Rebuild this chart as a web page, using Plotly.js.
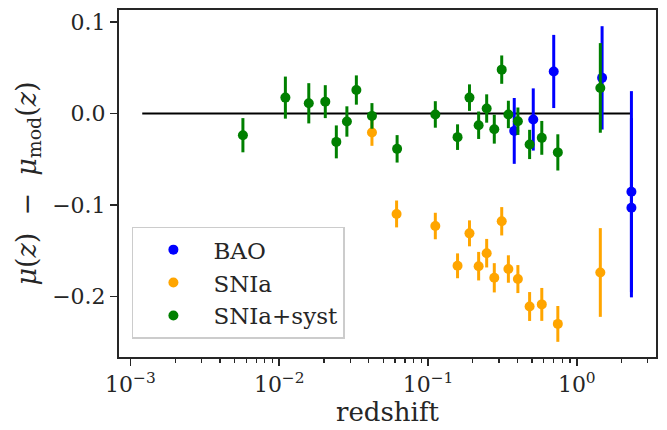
<!DOCTYPE html>
<html>
<head>
<meta charset="utf-8">
<script src="https://cdn.plot.ly/plotly-3.0.1.min.js"></script>
<style>html,body{margin:0;padding:0;background:#fff;}#chart{width:667px;height:430px;}</style>
</head>
<body>
<div id="chart"></div>
<script>
// BAO
const baoZ   = [0.38, 0.51, 0.70, 1.48, 2.33, 2.33];
const baoY   = [-0.019, -0.0065, 0.046, 0.039, -0.0855, -0.103];
const baoErr = [0.036, 0.034, 0.040, 0.0565, 0.110, 0.098];

// SNIa (stat only)
const snZ   = [0.042, 0.0615, 0.112, 0.158, 0.19, 0.219, 0.248, 0.279, 0.313, 0.347, 0.402, 0.482, 0.582, 0.746, 1.44];
const snY   = [-0.0207, -0.1098, -0.123, -0.1665, -0.131, -0.1669, -0.1527, -0.1796, -0.1178, -0.170, -0.181, -0.211, -0.2087, -0.230, -0.1738];
const snErr = [0.0146, 0.0147, 0.0145, 0.0136, 0.0142, 0.0156, 0.0156, 0.016, 0.0155, 0.015, 0.0153, 0.0158, 0.018, 0.0196, 0.0485];

// SNIa + systematics
const sysZ   = [0.0057, 0.011, 0.0158, 0.0204, 0.0242, 0.0285, 0.033, 0.042, 0.062, 0.112, 0.158, 0.19, 0.219, 0.248, 0.279, 0.313, 0.347, 0.402, 0.482, 0.582, 0.746, 1.44];
const sysY   = [-0.0237, 0.0174, 0.0112, 0.013, -0.031, -0.0087, 0.0257, -0.0026, -0.0386, -0.001, -0.0258, 0.0174, -0.0128, 0.0055, -0.0171, 0.048, -0.001, -0.0084, -0.0338, -0.0266, -0.0425, 0.028];
const sysErr = [0.0187, 0.023, 0.022, 0.018, 0.018, 0.0166, 0.016, 0.014, 0.015, 0.0145, 0.014, 0.0145, 0.015, 0.0155, 0.0158, 0.0155, 0.015, 0.015, 0.016, 0.0185, 0.0198, 0.049];

// zero reference line
const refZ = [0.0012, 2.33];
const refY = [0, 0];

const xTickVals = [0.001, 0.01, 0.1, 1];
const xTickText = ['10<sup>−3</sup>', '10<sup>−2</sup>', '10<sup>−1</sup>', '10<sup>0</sup>'];
const yTickVals = [-0.2, -0.1, 0.0, 0.1];
const yTickText = ['−0.2', '−0.1', '0.0', '0.1'];

const minorVals = [];
[0.001, 0.01, 0.1, 1].forEach(d => { for (let k = 2; k <= 9; k++) minorVals.push(d * k); });

const FONT = 'DejaVu Serif';

function errTrace(x, y, e, color, name) {
  return {
    x: x, y: y, type: 'scatter', mode: 'markers', name: name,
    marker: {color: color, size: 10},
    error_y: {type: 'data', array: e, visible: true, color: color, thickness: 3, width: 0}
  };
}

const data = [
  {x: refZ, y: refY, type: 'scatter', mode: 'lines', line: {color: 'black', width: 2}, showlegend: false, hoverinfo: 'skip'},
  errTrace(baoZ, baoY, baoErr, '#0000ff', 'BAO'),
  errTrace(snZ, snY, snErr, '#ffa500', 'SNIa'),
  errTrace(sysZ, sysY, sysErr, '#008000', 'SNIa+syst')
];

const layout = {
  width: 667, height: 430,
  margin: {l: 119, r: 10.5, t: 10, b: 72.5},
  paper_bgcolor: 'white', plot_bgcolor: 'white',
  font: {family: FONT, size: 22, color: '#262626'},
  showlegend: true,
  legend: {
    x: 0.024, y: 0.3755, xanchor: 'left', yanchor: 'top',
    itemwidth: 70,
    bgcolor: 'rgba(255,255,255,0.8)', bordercolor: '#cccccc', borderwidth: 1.5,
    font: {family: FONT, size: 23, color: '#262626'}
  },
  xaxis: {
    type: 'log', range: [-3.077, 0.5326],
    showgrid: false, zeroline: false,
    showline: true, linecolor: '#262626', linewidth: 2, mirror: true,
    ticks: 'outside', ticklen: 7, tickwidth: 1.5, tickcolor: '#262626',
    tickvals: xTickVals, ticktext: xTickText,
    tickfont: {family: FONT, size: 22, color: '#262626'},
    minor: {tickvals: minorVals, ticks: 'outside', ticklen: 4, tickwidth: 1.2, tickcolor: '#262626', showgrid: false},
    title: {text: 'redshift', font: {family: FONT, size: 26, color: '#262626'}, standoff: 2}
  },
  yaxis: {
    range: [-0.2662, 0.1132],
    showgrid: false, zeroline: false,
    showline: true, linecolor: '#262626', linewidth: 2, mirror: true,
    ticks: 'outside', ticklen: 7, tickwidth: 1.5, tickcolor: '#262626',
    tickvals: yTickVals, ticktext: yTickText,
    tickfont: {family: FONT, size: 22, color: '#262626'},
    title: {text: '<i>μ</i>(<i>z</i>)\u00a0\u00a0−\u00a0\u00a0<i>μ</i><sub>mod</sub>(<i>z</i>)', font: {family: FONT, size: 27, color: '#262626'}, standoff: 8}
  }
};

Plotly.newPlot('chart', data, layout, {staticPlot: true, displayModeBar: false});
</script>
</body>
</html>
